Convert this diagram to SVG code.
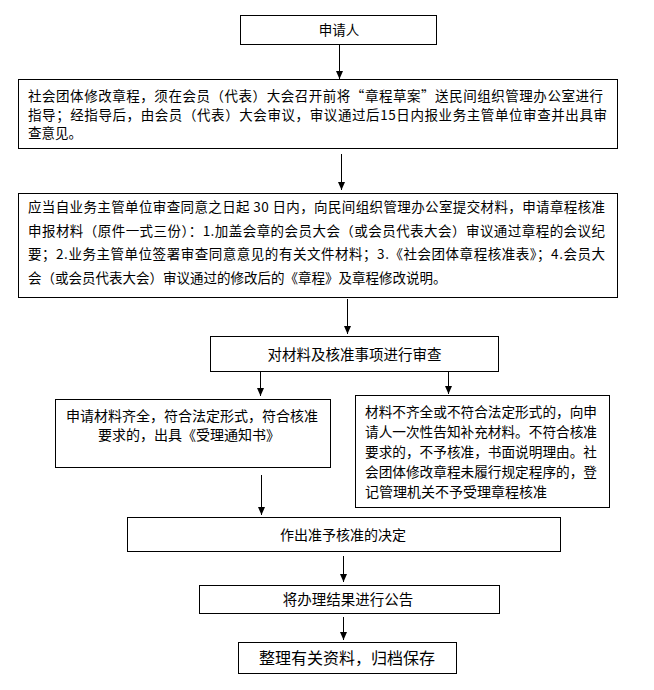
<svg xmlns="http://www.w3.org/2000/svg" width="654" height="690" viewBox="0 0 654 690">
<defs>
<style>
.box{fill:#fff;stroke:#000;stroke-width:1}
.t{font-family:"Noto Sans CJK SC","Noto Sans CJK JP",sans-serif;fill:#000;font-size:13.5px}
.c{text-anchor:middle}
.ln{stroke:#000;stroke-width:1;fill:none;marker-end:url(#ah)}
</style>
<marker id="ah" markerUnits="userSpaceOnUse" markerWidth="8" markerHeight="7" viewBox="0 0 8 7" refX="8" refY="3.5" orient="auto">
<path d="M0,0 L8,3.5 L0,7 z" fill="#000"/>
</marker>
</defs>
<rect width="654" height="690" fill="#fff"/>
<g id="connectors">
<line class="ln" x1="339.5" y1="44" x2="339.5" y2="79"/>
<line class="ln" x1="341.5" y1="154" x2="341.5" y2="190"/>
<line class="ln" x1="347.5" y1="299" x2="347.5" y2="334"/>
<line class="ln" x1="260.5" y1="372" x2="260.5" y2="396"/>
<line class="ln" x1="448.5" y1="372" x2="448.5" y2="394"/>
<line class="ln" x1="261.5" y1="475" x2="261.5" y2="515"/>
<line class="ln" x1="343.5" y1="556" x2="343.5" y2="582"/>
<line class="ln" x1="343.5" y1="617" x2="343.5" y2="640"/>
</g>
<g id="n1">
<rect class="box" x="240.5" y="15.5" width="196" height="29"/>
<text class="t c" x="339" y="34.5">申请人</text>
</g>
<g id="n2">
<rect class="box" x="18.5" y="79.5" width="599" height="69"/>
<text class="t" x="28" y="101" textLength="575" lengthAdjust="spacing">社会团体修改章程，须在会员（代表）大会召开前将“章程草案”送民间组织管理办公室进行</text>
<text class="t" x="28" y="119.5" textLength="579" lengthAdjust="spacing">指导；经指导后，由会员（代表）大会审议，审议通过后15日内报业务主管单位审查并出具审</text>
<text class="t" x="28" y="138">查意见。</text>
</g>
<g id="n3">
<rect class="box" x="18.5" y="193.5" width="599" height="104"/>
<text class="t" x="28" y="212" textLength="577" lengthAdjust="spacing">应当自业务主管单位审查同意之日起 30 日内，向民间组织管理办公室提交材料，申请章程核准</text>
<text class="t" x="28" y="235.5" textLength="577" lengthAdjust="spacing">申报材料（原件一式三份）：1.加盖会章的会员大会（或会员代表大会）审议通过章程的会议纪</text>
<text class="t" x="28" y="259" textLength="577" lengthAdjust="spacing">要；2.业务主管单位签署审查同意意见的有关文件材料；3.《社会团体章程核准表》；4.会员大</text>
<text class="t" x="28" y="283">会（或会员代表大会）审议通过的修改后的《章程》及章程修改说明。</text>
</g>
<g id="n4">
<rect class="box" x="210.5" y="336.5" width="288" height="35"/>
<text class="t c" x="354.5" y="360" style="font-size:14.5px">对材料及核准事项进行审查</text>
</g>
<g id="n5">
<rect class="box" x="55.5" y="399.5" width="275" height="68"/>
<text class="t c" x="192" y="420.5" style="font-size:14px">申请材料齐全，符合法定形式，符合核准</text>
<text class="t c" x="189" y="440" style="font-size:14px">要求的，出具《受理通知书》</text>
</g>
<g id="n6">
<rect class="box" x="355.5" y="395.5" width="254" height="112"/>
<text class="t" x="365" y="417" textLength="232" lengthAdjust="spacingAndGlyphs" style="font-size:14px">材料不齐全或不符合法定形式的，向申</text>
<text class="t" x="365" y="437" textLength="232" lengthAdjust="spacingAndGlyphs" style="font-size:14px">请人一次性告知补充材料。不符合核准</text>
<text class="t" x="365" y="457" textLength="232" lengthAdjust="spacingAndGlyphs" style="font-size:14px">要求的，不予核准，书面说明理由。社</text>
<text class="t" x="365" y="477" textLength="232" lengthAdjust="spacingAndGlyphs" style="font-size:14px">会团体修改章程未履行规定程序的，登</text>
<text class="t" x="365" y="497" style="font-size:14px">记管理机关不予受理章程核准</text>
</g>
<g id="n7">
<rect class="box" x="127.5" y="517.5" width="433" height="34"/>
<text class="t c" x="343" y="540" style="font-size:14px">作出准予核准的决定</text>
</g>
<g id="n8">
<rect class="box" x="199.5" y="585.5" width="300" height="28"/>
<text class="t c" x="348" y="604.5" style="font-size:14.5px">将办理结果进行公告</text>
</g>
<g id="n9">
<rect class="box" x="238.5" y="642.5" width="218" height="31"/>
<text class="t c" x="347" y="664" style="font-size:16px">整理有关资料，归档保存</text>
</g>
</svg>
